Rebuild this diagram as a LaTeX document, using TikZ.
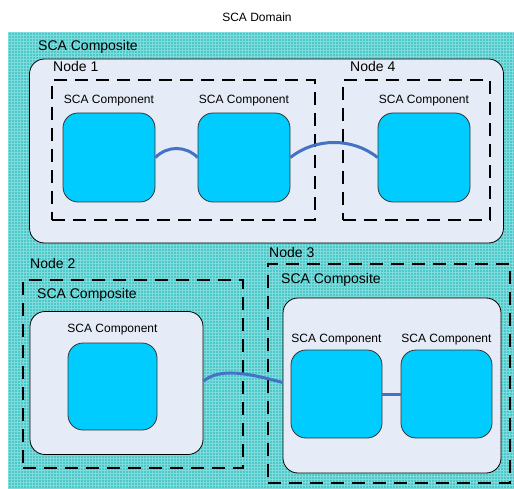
\documentclass[tikz,border=0pt]{standalone}
\usepackage{fontspec}
\setmainfont{Liberation Sans}
\usetikzlibrary{calc}
\definecolor{teal1}{HTML}{4CC8C8}
\definecolor{teal2}{HTML}{80DCDC}
\definecolor{compfill}{HTML}{E6ECF7}
\definecolor{cyanbox}{HTML}{00CCFF}
\definecolor{linkblue}{HTML}{4472C4}
\tikzset{
  big/.style={font=\fontsize{14}{16}\selectfont, inner sep=0pt, anchor=base west},
  small/.style={font=\fontsize{12}{14}\selectfont, inner sep=0pt, anchor=base},
  composite/.style={draw=black, line width=0.8pt, fill=compfill, rounded corners=15pt, inner sep=0pt},
  nodebox/.style={draw=black, line width=2pt, dash pattern=on 13pt off 8pt, inner sep=0pt},
  compbox/.style={draw=black!80, line width=0.8pt, fill=cyanbox, rounded corners=15pt, inner sep=0pt},
  link/.style={draw=linkblue, line width=3pt}
}
\begin{document}
\begin{tikzpicture}[x=1pt,y=-1pt]
\useasboundingbox (0,0) rectangle (514,489);
\fill[white] (0,0) rectangle (514,489);
% domain
\node[font=\fontsize{12}{14}\selectfont, inner sep=0pt, anchor=base] (title) at (257,22) {SCA Domain};
\fill[teal1] (8,32) rectangle (514,489);
\begin{scope}
\clip (8,32) rectangle (514,489);
\foreach \i in {0,...,170} {
  \draw[teal2, line width=0.7pt] ({8+3*\i},32) -- ({8+3*\i},489);
}
\foreach \j in {0,...,153} {
  \draw[teal2, line width=0.7pt] (8,{32+3*\j}) -- (514,{32+3*\j});
}
\end{scope}

% top composite
\node[composite, minimum width=474pt, minimum height=184pt] (comp1) at (266.5,151) {};
\node[big] (comp1lbl) at (38,51) {SCA Composite};
\node[nodebox, minimum width=263pt, minimum height=140pt] (n1) at (183.5,150) {};
\node[big] (n1lbl) at (53,72) {Node 1};
\node[nodebox, minimum width=147pt, minimum height=140pt] (n4) at (416.5,150) {};
\node[big] (n4lbl) at (350,72) {Node 4};

\node[compbox, minimum width=92pt, minimum height=89pt] (c1) at (109,157.5) {};
\node[compbox, minimum width=92pt, minimum height=89pt] (c2) at (244,157.5) {};
\node[compbox, minimum width=92pt, minimum height=89pt] (c3) at (424,157.5) {};
\node[small] (c1lbl) at (109,104) {SCA Component};
\node[small] (c2lbl) at (244,104) {SCA Component};
\node[small] (c3lbl) at (424,104) {SCA Component};
\draw[link] (c1.east) .. controls +(12,-12) and +(-12,-12) .. (c2.west);
\draw[link] (c2.east) .. controls +(25,-20) and +(-25,-20) .. (c3.west);

% node 2
\node[nodebox, minimum width=220pt, minimum height=188pt] (n2) at (133,374) {};
\node[big] (n2lbl) at (30,269) {Node 2};
\node[composite, minimum width=173pt, minimum height=143pt] (comp2) at (116.5,383) {};
\node[big] (comp2lbl) at (37,298) {SCA Composite};
\node[compbox, minimum width=89pt, minimum height=87pt] (c4) at (112.5,386.5) {};
\node[small] (c4lbl) at (112.5,332) {SCA Component};

% node 3
\node[nodebox, minimum width=242pt, minimum height=219pt] (n3) at (389,373.5) {};
\node[big] (n3lbl) at (269,257) {Node 3};
\node[composite, minimum width=218pt, minimum height=175pt] (comp3) at (392,385.5) {};
\node[big] (comp3lbl) at (281,283) {SCA Composite};
\node[compbox, minimum width=91pt, minimum height=88pt] (c5) at (336.5,394) {};
\node[compbox, minimum width=91pt, minimum height=88pt] (c6) at (446.5,394) {};
\node[small] (c5lbl) at (336.5,342) {SCA Component};
\node[small] (c6lbl) at (446.5,342) {SCA Component};
\draw[link] (c5.east) -- (c6.west);
\draw[link] ($(comp2.east)+(0,-2)$) .. controls +(17,-13) and +(-37,-10) .. ($(comp3.west)+(0,-3)$);
\end{tikzpicture}
\end{document}
